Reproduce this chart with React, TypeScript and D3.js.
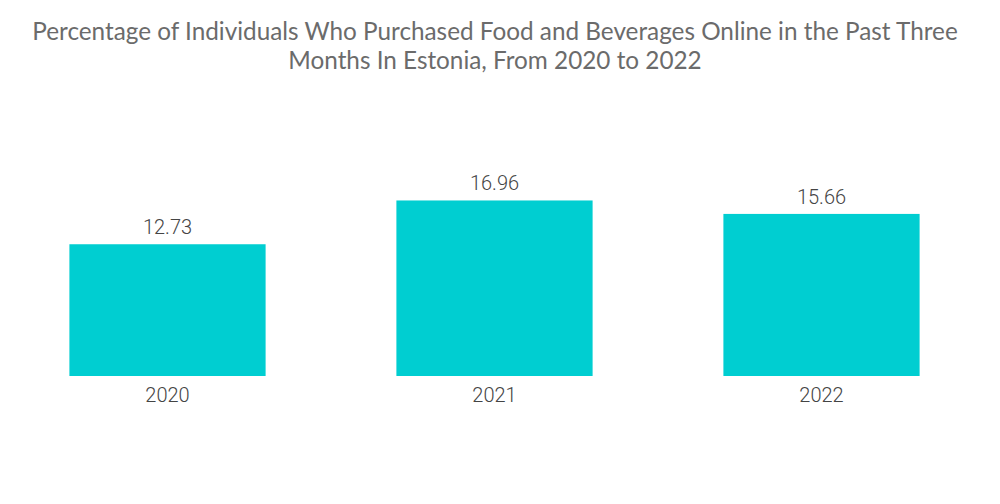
import React, { useRef, useEffect } from "react";
import * as d3 from "d3";

const years = ["2020", "2021", "2022"];
const shares = [12.73, 16.96, 15.66];
const titleLines = [
  "Percentage of Individuals Who Purchased Food and Beverages Online in the Past Three",
  "Months In Estonia, From 2020 to 2022",
];

export default function App() {
  const ref = useRef<SVGSVGElement | null>(null);
  const width = 1000, height = 504;

  useEffect(() => {
    const svg = d3.select(ref.current);
    svg.selectAll("*").remove();

    const x = d3.scaleBand().domain(years).range([4, 985]).paddingInner(0.4).paddingOuter(0.2);
    const y = d3.scaleLinear().domain([0, 20]).range([376, 169]);

    // title
    svg.append("g")
      .selectAll("text")
      .data(titleLines)
      .join("text")
      .attr("x", 495)
      .attr("y", (d, i) => 40 + i * 29)
      .attr("text-anchor", "middle")
      .attr("font-family", "Lato, sans-serif")
      .attr("font-size", 24.3)
      .attr("fill", "#6b6b6b")
      .text(d => d);

    const data = years.map((yr, i) => ({ yr, v: shares[i] }));

    svg.append("g")
      .selectAll("rect")
      .data(data)
      .join("rect")
      .attr("x", d => x(d.yr)!)
      .attr("width", x.bandwidth())
      .attr("y", d => y(d.v))
      .attr("height", d => y(0) - y(d.v))
      .attr("fill", "#00ced1");

    // value labels
    svg.append("g")
      .selectAll("text")
      .data(data)
      .join("text")
      .attr("x", d => x(d.yr)! + x.bandwidth() / 2)
      .attr("y", d => y(d.v) - 10)
      .attr("text-anchor", "middle")
      .attr("font-family", "Roboto, sans-serif")
      .attr("font-weight", 300)
      .attr("font-size", 20)
      .attr("fill", "#444")
      .text(d => d.v.toFixed(2));

    // x axis labels, no line or ticks
    const xAxis = svg.append("g")
      .attr("transform", `translate(0,${y(0)})`)
      .call(d3.axisBottom(x).tickSize(0).tickPadding(12));
    xAxis.select(".domain").remove();
    xAxis.selectAll("text")
      .attr("font-family", "Roboto, sans-serif")
      .attr("font-weight", 300)
      .attr("font-size", 20)
      .attr("fill", "#444");
  }, []);

  return (
    <div style={{ position: "absolute", left: 0, top: 0 }}>
      <svg ref={ref} width={width} height={height} style={{ display: "block", background: "#fff" }} />
    </div>
  );
}
